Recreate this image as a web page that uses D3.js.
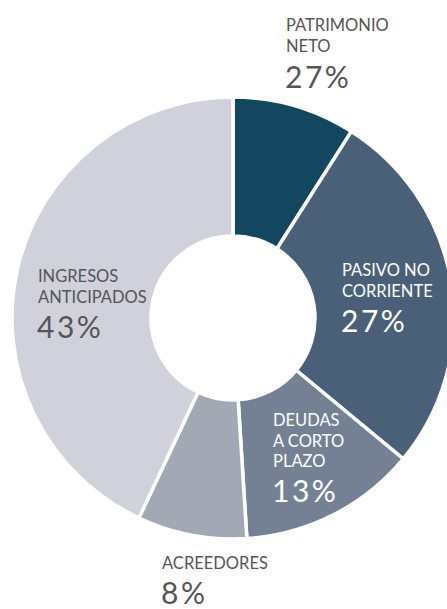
<!DOCTYPE html>
<html>
<head>
<meta charset="utf-8">
<script src="https://cdn.jsdelivr.net/npm/d3@7"></script>
<style>
  html, body { margin: 0; padding: 0; background: #fff; }
  svg { display: block; }
  text { font-family: Lato, "Noto Sans", sans-serif; }
</style>
</head>
<body>
<div id="chart"></div>
<script>
// Balance structure: share of each funding source (%)
const categories = ["PATRIMONIO NETO", "PASIVO NO CORRIENTE", "DEUDAS A CORTO PLAZO", "ACREEDORES", "INGRESOS ANTICIPADOS"];
const shares = [9, 27, 13, 8, 43];
const percentLabels = ["27%", "27%", "13%", "8%", "43%"];
const labelLines = [["PATRIMONIO", "NETO"], ["PASIVO NO", "CORRIENTE"], ["DEUDAS", "A CORTO", "PLAZO"], ["ACREEDORES"], ["INGRESOS", "ANTICIPADOS"]];
const colors = ["#12475f", "#4a6078", "#748194", "#a2a8b4", "#d0d1da"];
const textColors = ["#555555", "#ffffff", "#ffffff", "#555555", "#555555"];

const width = 447, height = 609;
const cx = 233, cy = 318;
const outerR = 221, innerR = 82;

const svg = d3.select("#chart").append("svg")
  .attr("width", width).attr("height", height);

const pie = d3.pie().sort(null).value(d => d.value);
const arc = d3.arc().innerRadius(innerR).outerRadius(outerR);

const data = categories.map((c, i) => ({
  name: c, value: shares[i], pct: percentLabels[i],
  lines: labelLines[i], color: colors[i], textColor: textColors[i]
}));

const g = svg.append("g").attr("transform", `translate(${cx},${cy})`);

g.selectAll("path.slice")
  .data(pie(data))
  .join("path")
  .attr("class", "slice")
  .attr("d", arc)
  .attr("fill", d => d.data.color)
  .attr("stroke", "#ffffff")
  .attr("stroke-width", 3.5)
  .attr("stroke-linejoin", "miter");

// Label anchor: left edge and baseline of the first line, per slice
const labelPos = [[286, 31], [342, 276], [273, 426], [162, 569], [38, 282]];
const pctGaps = [36, 35.5, 35, 34.5, 35.5];
const lineStep = 20.5;

const labels = svg.selectAll("g.label")
  .data(data)
  .join("g")
  .attr("class", "label")
  .attr("transform", (d, i) => `translate(${labelPos[i][0]},${labelPos[i][1]})`);

labels.each(function(d, i) {
  const sel = d3.select(this);
  d.lines.forEach((ln, j) => {
    sel.append("text")
      .attr("x", 0).attr("y", j * lineStep)
      .attr("fill", d.textColor)
      .attr("font-size", 16.5)
      .text(ln);
  });
  sel.append("text")
    .attr("x", -1).attr("y", (d.lines.length - 1) * lineStep + pctGaps[i])
    .attr("fill", d.textColor)
    .attr("font-size", 30)
    .attr("letter-spacing", 2.5)
    .text(d.pct);
});
</script>
</body>
</html>
